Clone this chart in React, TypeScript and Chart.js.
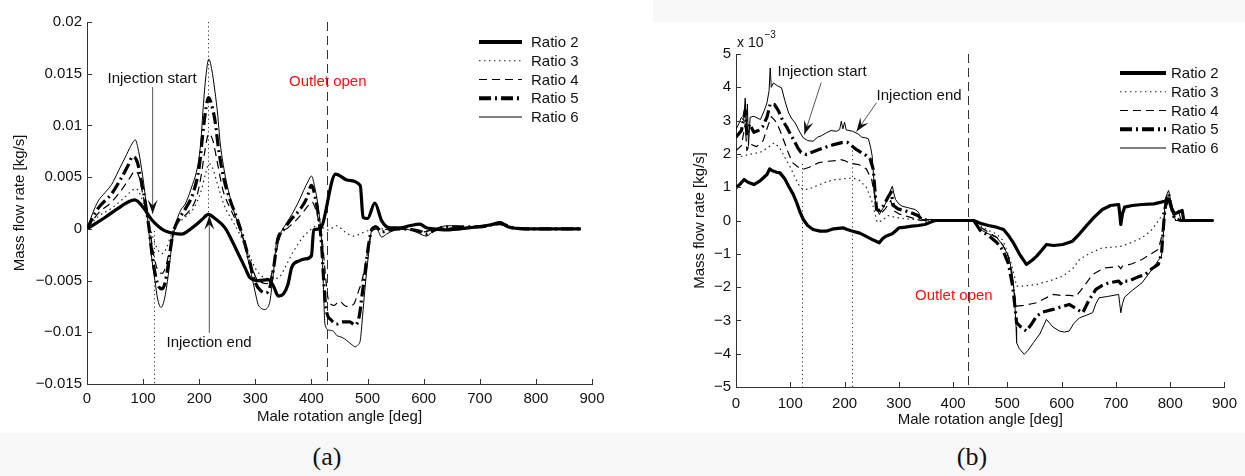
import React, { useEffect, useRef } from 'react';
import { Chart, registerables } from 'chart.js';

Chart.register(...registerables);

// ---------------- DATA ----------------
const SERIES_NAMES = ['Ratio 2', 'Ratio 3', 'Ratio 4', 'Ratio 5', 'Ratio 6'];

// Panel (a): [angle deg, mass flow rate in 1e-3 kg/s]
const A_RATIO2: number[][] = [[0,0],[15,0.5],[32,1.1],[56,2.0],[70,2.5],[85,2.8],[100,2.1],[115,0.9],[128,0.2],[139,-0.2],[155,-0.45],[169,-0.5],[180,-0.2],[192,0.3],[205,0.9],[216,1.4],[228,1.0],[246,0.1],[258,-1.1],[270,-2.45],[282,-3.8],[290,-4.7],[305,-5.0],[323,-4.9],[332,-5.5],[341,-6.5],[350,-6.3],[358,-5.4],[365,-3.7],[378,-3.1],[389,-2.9],[400,-2.6],[404,-0.1],[415,0],[443,5.3],[465,4.7],[487,4.2],[492,1.1],[500,1.0],[513,2.5],[525,0.8],[540,0.1],[558,0.1],[575,0.3],[593,0.45],[605,0.1],[617,0],[640,-0.1],[680,0.1],[720,0.4],[736,0.6],[750,0.2],[780,0],[820,0],[880,0]];
const A_RATIO3: number[][] = [[0,0],[20,1.2],[44,2.0],[64,2.9],[78,3.6],[87,3.9],[95,3.3],[103,2.0],[110,0.6],[118,-0.9],[126,-2.0],[134,-2.4],[142,-1.8],[150,-0.6],[158,0.3],[172,1.0],[190,2.0],[203,3.6],[212,5.5],[217,6.3],[223,6.0],[232,4.4],[245,2.2],[258,0.9],[272,-0.5],[288,-2.4],[300,-3.8],[312,-4.6],[325,-4.8],[335,-4.8],[344,-4.6],[355,-3.5],[370,-2.0],[385,-0.8],[398,-0.1],[405,0.2],[412,0.4],[420,0.1],[430,-0.1],[445,0.3],[460,-0.3],[475,-0.7],[490,-0.4],[505,-0.1],[520,0],[560,0],[600,-0.2],[620,0],[700,0.2],[736,0.4],[760,0.1],[800,0],[880,0]];
const A_RATIO4: number[][] = [[0,0],[20,1.5],[44,2.6],[62,3.8],[76,4.9],[86,5.6],[93,5.0],[100,3.2],[107,1.5],[113,-0.5],[120,-2.8],[127,-4.1],[134,-4.3],[141,-3.5],[148,-1.8],[155,-0.2],[165,0.8],[180,1.6],[195,3.0],[203,5.0],[210,7.5],[217,9.2],[224,8.6],[232,6.5],[242,3.8],[255,2.0],[268,0.5],[280,-1.2],[292,-3.4],[302,-4.8],[312,-5.2],[320,-5.3],[328,-4.6],[336,-2.5],[345,-0.6],[358,0.1],[372,0.8],[385,1.6],[395,2.3],[401,2.6],[408,1.8],[414,0.5],[420,-1.5],[425,-4.5],[430,-6.8],[440,-7.4],[450,-7.0],[462,-7.5],[475,-7.3],[484,-6.0],[490,-5.0],[497,-3.2],[504,-1.0],[510,-0.1],[520,0],[540,-0.1],[570,0],[600,-0.3],[620,0],[660,0.1],[700,0.2],[736,0.4],[760,0.1],[800,0],[880,0]];
const A_RATIO5: number[][] = [[0,0],[20,2.0],[44,3.4],[60,4.8],[72,6.0],[82,7.0],[90,6.4],[97,4.5],[104,2.5],[110,0.3],[116,-2.5],[122,-4.5],[128,-5.6],[134,-5.8],[140,-5.0],[146,-3.0],[152,-0.8],[160,0.6],[175,1.9],[190,3.6],[200,6.0],[208,10.0],[214,12.3],[217,12.7],[222,12.0],[228,10.5],[235,7.5],[245,4.6],[255,2.8],[268,0.9],[278,-0.8],[290,-3.2],[300,-5.2],[310,-6.0],[318,-6.2],[325,-5.8],[332,-4.0],[340,-1.0],[350,-0.1],[365,1.0],[380,1.9],[392,3.0],[400,4.2],[407,3.0],[413,1.0],[418,-1.5],[423,-6.0],[427,-8.0],[435,-8.8],[445,-9.2],[455,-9.0],[468,-9.0],[478,-9.3],[485,-8.5],[490,-6.5],[496,-4.0],[502,-1.5],[508,0.0],[515,0.2],[525,-0.3],[540,-0.1],[560,0],[590,-0.2],[605,-0.5],[620,-0.1],[650,0.2],[700,0.2],[736,0.5],[760,0.1],[800,0],[880,0]];
const A_RATIO6: number[][] = [[0,0],[10,1.5],[20,2.7],[32,3.5],[44,4.3],[56,5.6],[68,6.9],[78,8.0],[86,8.6],[92,7.5],[97,5.9],[102,4.0],[106,2.1],[112,-1.2],[117,-3.5],[121,-5.0],[126,-6.8],[132,-7.6],[138,-6.8],[145,-4.4],[152,-1.2],[160,0.8],[167,1.8],[175,2.4],[185,3.8],[198,6.3],[203,8.5],[207,11.7],[212,14.8],[217,16.4],[222,15.5],[228,13.3],[233,11.0],[237,8.5],[245,5.5],[252,3.7],[264,1.3],[276,-0.5],[285,-2.5],[293,-4.4],[300,-6.2],[305,-7.3],[311,-7.7],[317,-7.8],[322,-7.6],[326,-7.0],[329,-5.8],[332,-4.4],[338,-1.2],[347,-0.2],[356,0.6],[365,1.4],[376,2.5],[386,3.7],[394,4.6],[400,5.1],[406,4.0],[412,2.1],[418,-1.2],[421,-5.0],[424,-9.2],[432,-9.8],[439,-9.9],[445,-10.3],[455,-10.5],[463,-10.8],[472,-11.2],[478,-11.4],[483,-11.2],[487,-10.8],[491,-8.5],[495,-6.0],[501,-2.8],[507,-0.2],[515,0.3],[520,-0.3],[525,-0.8],[534,-0.5],[545,-0.2],[558,0],[575,-0.1],[588,-0.35],[598,-0.6],[605,-0.7],[617,-0.2],[630,0.2],[650,0.3],[680,0.1],[720,0.4],[736,0.7],[750,0.2],[780,0],[880,0]];

// Panel (b): [angle deg, mass flow rate in 1e-3 kg/s]
const B_RATIO2: number[][] = [[0,0.98],[8,1.1],[15,1.23],[22,1.15],[33,1.08],[45,1.2],[57,1.38],[62,1.55],[66,1.5],[75,1.45],[81,1.43],[90,1.25],[97,1.03],[105,0.8],[112,0.53],[118,0.25],[124,0.03],[132,-0.15],[142,-0.27],[155,-0.32],[166,-0.32],[180,-0.25],[197,-0.22],[205,-0.27],[215,-0.32],[228,-0.38],[239,-0.47],[252,-0.58],[264,-0.67],[270,-0.55],[276,-0.47],[288,-0.4],[295,-0.3],[300,-0.22],[312,-0.2],[324,-0.17],[336,-0.15],[348,-0.12],[358,-0.05],[367,0],[438,0],[450,-0.08],[465,-0.15],[480,-0.2],[493,-0.27],[502,-0.45],[511,-0.67],[522,-1.0],[535,-1.32],[545,-1.2],[554,-1.07],[563,-0.9],[572,-0.72],[585,-0.75],[602,-0.72],[620,-0.62],[633,-0.4],[645,-0.17],[660,0.1],[675,0.33],[690,0.45],[705,0.48],[707,0.2],[709,-0.12],[712,0.2],[716,0.4],[730,0.45],[748,0.48],[770,0.5],[790,0.58],[797,0.65],[803,0.35],[808,0.2],[815,0.25],[822,0.3],[825,0],[880,0]];
const B_RATIO3: number[][] = [[0,1.88],[15,1.95],[30,2.0],[45,2.05],[60,2.2],[70,2.33],[80,2.2],[90,1.9],[100,1.6],[110,1.25],[118,1.0],[125,0.93],[135,0.95],[150,1.05],[165,1.15],[180,1.22],[197,1.25],[215,1.28],[228,1.2],[240,1.0],[250,0.6],[256,0.2],[260,-0.05],[270,0.0],[280,0.15],[292,0.1],[310,0.05],[330,0.03],[350,0],[438,0],[450,-0.15],[465,-0.3],[480,-0.4],[492,-0.6],[505,-1.17],[512,-1.6],[517,-1.97],[530,-1.97],[554,-1.92],[580,-1.8],[602,-1.67],[620,-1.45],[633,-1.17],[650,-1.0],[675,-0.82],[695,-0.8],[711,-0.77],[730,-0.65],[748,-0.52],[765,-0.3],[784,0.13],[790,0.4],[797,0.55],[803,0.3],[810,0],[880,0]];
const B_RATIO4: number[][] = [[0,2.1],[10,2.25],[17,2.9],[20,2.1],[25,2.3],[38,2.22],[50,2.4],[58,2.8],[65,3.12],[72,3.0],[80,2.75],[88,2.4],[96,2.05],[104,1.74],[113,1.62],[122,1.53],[135,1.6],[153,1.74],[170,1.78],[185,1.8],[193,1.83],[200,1.8],[210,1.72],[226,1.68],[240,1.55],[250,1.23],[256,0.7],[260,0.3],[266,0.2],[275,0.35],[285,0.6],[290,0.3],[300,0.2],[320,0.1],[340,0],[438,0],[450,-0.2],[465,-0.35],[480,-0.5],[492,-0.75],[502,-1.1],[510,-1.8],[514,-2.3],[517,-2.57],[530,-2.55],[545,-2.5],[554,-2.47],[568,-2.35],[584,-2.22],[600,-2.25],[615,-2.25],[627,-2.27],[640,-2.0],[657,-1.62],[670,-1.5],[681,-1.42],[695,-1.4],[705,-1.37],[709,-1.45],[712,-1.37],[730,-1.3],[748,-1.17],[765,-1.0],[778,-0.87],[784,-0.5],[787,-0.1],[792,0.4],[797,0.6],[803,0.3],[810,0],[880,0]];
const B_RATIO5: number[][] = [[0,2.5],[10,2.7],[17,3.3],[20,2.6],[25,2.9],[33,2.65],[41,2.7],[49,2.82],[57,3.1],[63,3.5],[71,3.48],[78,3.3],[86,3.0],[93,2.82],[100,2.6],[107,2.4],[115,2.15],[120,2.04],[130,1.98],[140,2.05],[153,2.13],[165,2.2],[180,2.28],[195,2.34],[205,2.35],[213,2.25],[220,2.15],[231,2.04],[240,1.95],[247,1.85],[253,1.53],[256,0.9],[259,0.33],[265,0.3],[272,0.45],[280,0.7],[286,0.85],[290,0.45],[298,0.35],[310,0.3],[320,0.25],[335,0.15],[342,0.03],[360,0],[438,0],[450,-0.3],[465,-0.45],[480,-0.65],[492,-0.9],[502,-1.3],[510,-2.0],[514,-2.6],[517,-3.07],[525,-3.2],[535,-3.32],[545,-3.1],[554,-2.87],[565,-2.75],[584,-2.67],[598,-2.6],[614,-2.52],[627,-2.65],[639,-2.77],[650,-2.4],[663,-2.07],[675,-1.95],[687,-1.87],[705,-1.82],[709,-1.9],[712,-1.82],[723,-1.82],[740,-1.7],[754,-1.62],[766,-1.45],[778,-1.32],[784,-1.0],[787,-0.3],[790,0.3],[794,0.7],[797,0.8],[802,0.4],[808,0.05],[820,0],[880,0]];
const B_RATIO6: number[][] = [[0,2.73],[5,2.9],[10,3.1],[14,3.0],[17,3.68],[19,2.7],[21,3.5],[23,2.23],[26,3.1],[33,3.13],[45,3.03],[52,3.3],[57,3.53],[61,3.9],[63,4.58],[65,4.0],[69,4.13],[76,4.05],[84,3.98],[90,3.6],[97,3.23],[103,3.05],[109,2.93],[116,2.7],[124,2.48],[132,2.4],[142,2.38],[150,2.5],[158,2.55],[166,2.63],[175,2.7],[185,2.68],[191,2.73],[194,2.98],[197,2.75],[200,2.95],[203,2.72],[215,2.68],[225,2.6],[232,2.5],[239,2.48],[244,2.45],[248,2.2],[251,1.93],[254,1.2],[257,0.53],[264,0.18],[270,0.35],[276,0.53],[282,0.8],[288,1.03],[291,0.8],[294,0.63],[300,0.5],[306,0.43],[318,0.38],[330,0.33],[336,0.25],[342,0.03],[360,0.03],[380,0],[438,0],[450,-0.27],[465,-0.4],[481,-0.52],[492,-0.75],[502,-1.07],[508,-1.5],[511,-1.87],[514,-2.57],[516,-3.2],[517,-3.67],[522,-3.85],[531,-4.02],[538,-3.9],[548,-3.67],[560,-3.4],[572,-2.97],[584,-3.2],[596,-3.32],[605,-3.35],[614,-3.32],[622,-3.1],[633,-2.92],[645,-2.85],[657,-2.77],[663,-2.5],[669,-2.32],[685,-2.28],[705,-2.22],[707,-2.5],[709,-2.77],[712,-2.5],[716,-2.3],[730,-2.1],[748,-1.87],[765,-1.5],[778,-1.2],[784,-1.07],[788,-0.3],[790,0.43],[794,0.8],[797,0.9],[801,0.6],[806,0.1],[815,0.3],[820,0],[880,0]];

const ANGLE_MIN = 0;
const ANGLE_MAX = 900;
const ANGLE_STEP = 100;
const A_Y_TICKS = [20, 15, 10, 5, 0, -5, -10, -15];
const A_Y_TICK_LABELS = ['0.02', '0.015', '0.01', '0.005', '0', '\u22120.005', '\u22120.01', '\u22120.015'];
const B_Y_TICKS = [5, 4, 3, 2, 1, 0, -1, -2, -3, -4, -5];
const B_Y_TICK_LABELS = ['5', '4', '3', '2', '1', '0', '\u22121', '\u22122', '\u22123', '\u22124', '\u22125'];

// annotations (data coordinates)
const A_MARKERS = [{ x: 120, y0: -0.2, y1: -15, kind: 'dot' }, { x: 216, y0: 20, y1: 1.4, kind: 'dot' }, { x: 427, y0: 20, y1: -15, kind: 'dash' }];
const A_ARROWS = [{ from: [117, 13.7], to: [117, 1.45] }, { from: [218, -10.05], to: [218, 1.26] }];
const A_NOTES = [
  { text: 'Injection start', x: 116, y: 14.5, align: 'center', red: false },
  { text: 'Injection end', x: 217.5, y: -11.0, align: 'center', red: false },
  { text: 'Outlet open', x: 360, y: 14.2, align: 'left', red: true },
];
const B_MARKERS = [{ x: 121, y0: 1.7, y1: -5, kind: 'dot' }, { x: 213.5, y0: 2.1, y1: -5, kind: 'dot' }, { x: 428, y0: 5, y1: -5, kind: 'dash' }];
const B_ARROWS = [{ from: [157, 4.14], to: [126, 2.58] }, { from: [259, 3.54], to: [222, 2.67] }];
const B_NOTES = [
  { text: 'Injection start', x: 76.5, y: 4.47, align: 'left', red: false },
  { text: 'Injection end', x: 259, y: 3.75, align: 'left', red: false },
  { text: 'Outlet open', x: 330, y: -2.25, align: 'left', red: true },
];

// ---------------- STYLE ----------------
const FONT = "'Liberation Sans', Arial, Helvetica, sans-serif";
const TEXT = '#111';
const AXIS = '#333';
const LINE_STYLES = [
  { w: 3.2, dash: [] as number[], color: '#000' },
  { w: 1.2, dash: [1.5, 3.5], color: '#222' },
  { w: 1.2, dash: [8, 5], color: '#000' },
  { w: 3.2, dash: [12, 4, 2, 4], color: '#000' },
  { w: 1, dash: [] as number[], color: '#000' },
];

function drawArrow(ctx: CanvasRenderingContext2D, x0: number, y0: number, x1: number, y1: number) {
  ctx.save();
  ctx.setLineDash([]);
  ctx.strokeStyle = '#555';
  ctx.lineWidth = 1;
  ctx.beginPath();
  ctx.moveTo(x0, y0);
  ctx.lineTo(x1, y1);
  ctx.stroke();
  const dx = x1 - x0, dy = y1 - y0;
  const len = Math.hypot(dx, dy);
  const ux = dx / len, uy = dy / len;
  const nx = -uy, ny = ux;
  const L = 14, W = 5;
  ctx.fillStyle = '#111';
  ctx.beginPath();
  ctx.moveTo(x1, y1);
  ctx.lineTo(x1 - ux * L + nx * W, y1 - uy * L + ny * W);
  ctx.lineTo(x1 - ux * L * 0.6, y1 - uy * L * 0.6);
  ctx.lineTo(x1 - ux * L - nx * W, y1 - uy * L - ny * W);
  ctx.closePath();
  ctx.fill();
  ctx.restore();
}

function makeOverlay(p: any) {
  return {
    id: 'overlay_' + p.name,
    beforeDatasetsDraw(chart: any) {
      const { ctx, scales } = chart;
      const xs = scales.x, ys = scales.y;
      ctx.save();
      p.markers.forEach((m: any) => {
        const x = Math.round(xs.getPixelForValue(m.x)) + 0.5;
        ctx.beginPath();
        ctx.strokeStyle = '#333';
        ctx.lineWidth = 1;
        ctx.setLineDash(m.kind === 'dot' ? [1.2, 3] : [9, 5]);
        ctx.moveTo(x, ys.getPixelForValue(m.y0));
        ctx.lineTo(x, ys.getPixelForValue(m.y1));
        ctx.stroke();
      });
      ctx.restore();
    },
    afterDraw(chart: any) {
      const { ctx, scales, chartArea } = chart;
      const xs = scales.x, ys = scales.y;
      ctx.save();
      // inward tick marks
      ctx.strokeStyle = AXIS;
      ctx.lineWidth = 1;
      ctx.setLineDash([]);
      ctx.beginPath();
      xs.ticks.forEach((t: any) => {
        const x = Math.round(xs.getPixelForValue(t.value)) + 0.5;
        ctx.moveTo(x, chartArea.bottom);
        ctx.lineTo(x, chartArea.bottom - 5);
      });
      ys.ticks.forEach((t: any) => {
        const y = Math.round(ys.getPixelForValue(t.value)) + 0.5;
        ctx.moveTo(chartArea.left, y);
        ctx.lineTo(chartArea.left + 5, y);
      });
      ctx.stroke();
      // arrows
      p.arrows.forEach((a: any) => {
        drawArrow(ctx, xs.getPixelForValue(a.from[0]), ys.getPixelForValue(a.from[1]), xs.getPixelForValue(a.to[0]), ys.getPixelForValue(a.to[1]));
      });
      // notes
      ctx.font = '15px ' + FONT;
      ctx.textBaseline = 'middle';
      p.notes.forEach((n: any) => {
        ctx.fillStyle = n.red ? '#ff1010' : TEXT;
        ctx.textAlign = n.align;
        ctx.fillText(n.text, xs.getPixelForValue(n.x), ys.getPixelForValue(n.y));
      });
      // exponent label
      if (p.exponent) {
        ctx.fillStyle = TEXT;
        ctx.textAlign = 'left';
        ctx.textBaseline = 'alphabetic';
        ctx.font = '14px ' + FONT;
        const x0 = chartArea.left + 1;
        ctx.fillText('x 10', x0, chartArea.top - 7);
        const w = ctx.measureText('x 10').width;
        ctx.font = '10px ' + FONT;
        ctx.fillText('\u22123', x0 + w + 1, chartArea.top - 16);
      }
      // legend
      const lg = p.legend;
      chart.data.datasets.forEach((ds: any, i: number) => {
        const y = lg.y0 + i * lg.dy;
        ctx.beginPath();
        ctx.strokeStyle = ds.borderColor;
        ctx.lineWidth = ds.borderWidth + (i === 0 || i === 3 ? 0.8 : 0);
        ctx.setLineDash(ds.borderDash || []);
        ctx.moveTo(lg.x0, y);
        ctx.lineTo(lg.x1, y);
        ctx.stroke();
        ctx.setLineDash([]);
        ctx.fillStyle = TEXT;
        ctx.font = '15px ' + FONT;
        ctx.textAlign = 'left';
        ctx.textBaseline = 'middle';
        ctx.fillText(ds.label, lg.tx, y + 1);
      });
      ctx.restore();
    },
  };
}

function buildConfig(p: any): any {
  return {
    type: 'line',
    data: {
      datasets: p.series.map((pts: number[][], i: number) => ({
        label: SERIES_NAMES[i],
        data: pts.map(([x, y]) => ({ x, y })),
        borderColor: LINE_STYLES[i].color,
        borderWidth: LINE_STYLES[i].w,
        borderDash: LINE_STYLES[i].dash,
        pointRadius: 0,
        fill: false,
        tension: p.smooth ? 0.4 : 0,
        cubicInterpolationMode: p.smooth ? 'monotone' : 'default',
        borderJoinStyle: 'round',
      })),
    },
    options: {
      responsive: false,
      animation: false,
      events: [],
      layout: { padding: { left: p.padLeft, right: p.padRight, top: p.top, bottom: 0 } },
      plugins: { legend: { display: false }, tooltip: { enabled: false } },
      scales: {
        x: {
          type: 'linear',
          min: ANGLE_MIN,
          max: ANGLE_MAX,
          ticks: { stepSize: ANGLE_STEP, padding: p.xTickPad, color: TEXT, font: { size: 15, family: FONT }, maxRotation: 0, autoSkip: false },
          grid: { display: true, drawOnChartArea: false, drawTicks: false },
          border: { display: true, color: AXIS, width: 1 },
          title: { display: true, text: 'Male rotation angle [deg]', color: TEXT, font: { size: 15, family: FONT }, padding: { top: 0, bottom: p.xTitlePad } },
          afterFit: (s: any) => { s.height = p.xAxisH; },
        },
        y: {
          type: 'linear',
          min: p.yMin,
          max: p.yMax,
          ticks: {
            stepSize: p.yStep,
            padding: 5,
            color: TEXT,
            font: { size: 15, family: FONT },
            callback: (v: number) => {
              const k = p.yTicks.indexOf(Math.round(v * 1000) / 1000);
              return k >= 0 ? p.yLabels[k] : '';
            },
          },
          grid: { display: true, drawOnChartArea: false, drawTicks: false },
          border: { display: true, color: AXIS, width: 1 },
          title: { display: true, text: 'Mass flow rate [kg/s]', color: TEXT, font: { size: 15, family: FONT }, padding: { top: 11, bottom: 0 } },
          afterFit: (s: any) => { s.width = p.yAxisW; },
        },
      },
    },
    plugins: [makeOverlay(p)],
  };
}

const PANEL_A = {
  name: 'a', left: 0, width: 622, height: 432,
  series: [A_RATIO2, A_RATIO3, A_RATIO4, A_RATIO5, A_RATIO6],
  smooth: true,
  padLeft: 0, padRight: 30, top: 22, yAxisW: 87, xAxisH: 48,
  xTickPad: 6, xTitlePad: 6,
  yMin: -15, yMax: 20, yStep: 5, yTicks: A_Y_TICKS, yLabels: A_Y_TICK_LABELS,
  markers: A_MARKERS, arrows: A_ARROWS, notes: A_NOTES, exponent: false,
  legend: { x0: 479, x1: 522, tx: 531, y0: 42, dy: 18.75 },
};
const PANEL_B = {
  name: 'b', left: 622, width: 623, height: 432,
  series: [B_RATIO2, B_RATIO3, B_RATIO4, B_RATIO5, B_RATIO6],
  smooth: false,
  padLeft: 58, padRight: 15, top: 54, yAxisW: 56, xAxisH: 45,
  xTickPad: 8, xTitlePad: 3,
  yMin: -5, yMax: 5, yStep: 1, yTicks: B_Y_TICKS, yLabels: B_Y_TICK_LABELS,
  markers: B_MARKERS, arrows: B_ARROWS, notes: B_NOTES, exponent: true,
  legend: { x0: 498, x1: 544, tx: 549, y0: 73, dy: 18.75 },
};

function Panel({ cfg }: { cfg: any }) {
  const ref = useRef<HTMLCanvasElement>(null);
  useEffect(() => {
    const chart = new Chart(ref.current as HTMLCanvasElement, buildConfig(cfg));
    return () => chart.destroy();
  }, [cfg]);
  return (
    <canvas
      ref={ref}
      width={cfg.width}
      height={cfg.height}
      style={{ position: 'absolute', left: cfg.left, top: 0, width: cfg.width, height: cfg.height }}
    />
  );
}

const captionStyle: React.CSSProperties = {
  position: 'absolute',
  top: 440,
  fontFamily: "'Liberation Serif', 'DejaVu Serif', serif",
  fontSize: 26,
  lineHeight: '34px',
  color: '#111',
  transform: 'translateX(-50%)',
};

export default function App() {
  return (
    <div style={{ position: 'absolute', left: 0, top: 0, width: 1245, height: 476, overflow: 'hidden', background: '#fff' }}>
      <div style={{ position: 'absolute', left: 0, top: 433, width: 1245, height: 43, background: '#f8f8f8' }} />
      <div style={{ position: 'absolute', left: 653, top: 0, width: 592, height: 22, background: '#f8f8f8' }} />
      <Panel cfg={PANEL_A} />
      <Panel cfg={PANEL_B} />
      <div style={{ ...captionStyle, left: 327 }}>(a)</div>
      <div style={{ ...captionStyle, left: 972 }}>(b)</div>
    </div>
  );
}
